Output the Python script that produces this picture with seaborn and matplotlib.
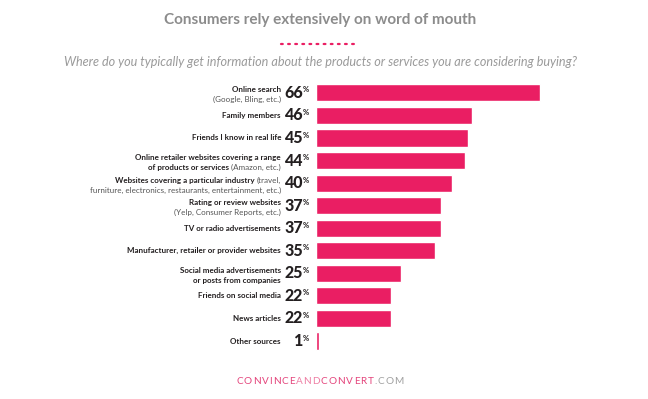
import matplotlib
matplotlib.use("Agg")
import matplotlib.pyplot as plt
import matplotlib.transforms as mtransforms
from matplotlib.lines import Line2D
import seaborn as sns

# data
sources = ["Online search", "Family members", "Friends I know in real life",
           "Online retailer websites", "Industry websites", "Rating or review websites",
           "TV or radio advertisements", "Manufacturer, retailer or provider websites",
           "Social media advertisements", "Friends on social media", "News articles",
           "Other sources"]
shares = [66, 46, 45, 44, 40, 37, 37, 35, 25, 22, 22, 1]

# label text, line by line, as (text, weight) pieces
label_lines = [
    [[("Online search", "bold")], [("(Google, Bling, etc.)", "normal")]],
    [[("Family members", "bold")]],
    [[("Friends I know in real life", "bold")]],
    [[("Online retailer websites covering a range", "bold")],
     [("of products or services", "bold"), ("(Amazon, etc.)", "normal")]],
    [[("Websites covering a particular industry", "bold"), ("(travel,", "normal")],
     [("furniture, electronics, restaurants, entertainment, etc.)", "normal")]],
    [[("Rating or review websites", "bold")], [("(Yelp, Consumer Reports, etc.)", "normal")]],
    [[("TV or radio advertisements", "bold")]],
    [[("Manufacturer, retailer or provider websites", "bold")]],
    [[("Social media advertisements", "bold")], [("or posts from companies", "bold")]],
    [[("Friends on social media", "bold")]],
    [[("News articles", "bold")]],
    [[("Other sources", "bold")]],
]

title = "Consumers rely extensively on word of mouth"
subtitle = "Where do you typically get information about the products or services you are considering buying?"
footer = [("CONVINCE", "#e4457c"), ("AND", "#ee7fa4"),
          ("CONVERT", "#e4457c"), (".COM", "#a0a0a0")]

PINK = "#ea1e63"
DARK = "#231f20"
W, H = 648, 399

sns.set_theme(style="white")
plt.rcParams["font.family"] = ["Lato", "DejaVu Sans"]

fig = plt.figure(figsize=(W / 100, H / 100), dpi=100)
ax = fig.add_axes([316 / W, 1 - 352.3 / H, 271 / W, 270.7 / H])

sns.barplot(x=shares, y=sources, color=PINK, width=0.76, saturation=1,
            orient="h", ax=ax)
ax.set_xlim(0, 80)
ax.set_ylim(len(sources) - 0.5, -0.5)
ax.axis("off")

renderer = fig.canvas.get_renderer()
trans = mtransforms.blended_transform_factory(fig.transFigure, ax.transData)

# category labels, right aligned, pieces drawn right to left
for i, lines in enumerate(label_lines):
    if len(lines) == 1:
        ys = [i]
    else:
        ys = [i - 0.13, i + 0.31]
    for y, parts in zip(ys, lines):
        x = 281 / W
        for text, weight in reversed(parts):
            color = DARK if weight == "bold" else "#555555"
            t = fig.text(x, y, text, transform=trans, ha="right", va="center",
                         fontsize=5.8, fontweight=weight, color=color)
            w = t.get_window_extent(renderer).width
            x -= (w + 2.2) / W

# percentage values
for i, v in enumerate(shares):
    fig.text(303 / W, i, str(v), transform=trans, ha="right", va="center",
             fontsize=11.5, fontweight=900, color=DARK)
    fig.text(302.6 / W, i - 0.13, "%", transform=trans, ha="left", va="center",
             fontsize=5.5, fontweight="bold", color=DARK)

fig.text(320 / W, 1 - 20 / H, title, ha="center", va="center",
         fontsize=11, fontweight="bold", color="#8c8c8c")
fig.add_artist(Line2D([281 / W, 358 / W], [1 - 44 / H, 1 - 44 / H],
                      transform=fig.transFigure, color=PINK, lw=1.6,
                      linestyle=(0, (0.8, 2.4)), dash_capstyle="round"))
fig.text(320 / W, 1 - 61.5 / H, subtitle, ha="center", va="center",
         fontsize=9.1, fontstyle="italic", color="#9a9a9a")

# footer, letter-spaced, drawn one character at a time
track = 0.95
chars = []
for text, color in footer:
    for ch in text:
        t = fig.text(0, 1 - 381 / H, ch, ha="left", va="center", fontsize=7.2,
                     color=color)
        chars.append((t, t.get_window_extent(renderer).width))
total = sum(w for _, w in chars) + track * (len(chars) - 1)
x = 320 - total / 2
for t, w in chars:
    t.set_x(x / W)
    x += w + track

fig.savefig("out.png", dpi=100, facecolor="white")
